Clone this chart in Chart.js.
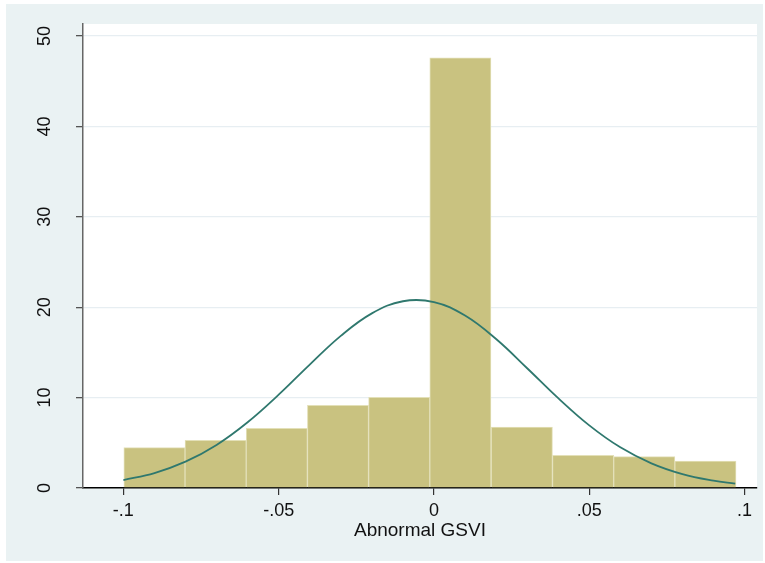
<!DOCTYPE html>
<html>
<head>
<meta charset="utf-8">
<title>Abnormal GSVI histogram</title>
<script src="https://cdn.jsdelivr.net/npm/chart.js@4.4.1/dist/chart.umd.min.js"></script>
<style>
    html, body { margin: 0; padding: 0; background: #ffffff; }
    #wrap { width: 765px; height: 563px; position: relative; }
</style>
</head>
<body>
<div id="wrap"><canvas id="hist" width="765" height="563"></canvas></div>
<script>
// histogram bins (centres) and their density heights
const binCenters = [-0.0900, -0.0703, -0.0506, -0.0309, -0.0112, 0.0085, 0.0283, 0.0480, 0.0677, 0.0874];
const densities = [4.46, 5.27, 6.60, 9.15, 10.03, 47.60, 6.75, 3.62, 3.47, 2.99];

// normal density overlay, read along the x axis
const curveX = [-0.100, -0.090, -0.080, -0.070, -0.060, -0.050, -0.040, -0.030, -0.020, -0.010, 0.000,
                0.010, 0.020, 0.030, 0.040, 0.050, 0.060, 0.070, 0.080, 0.090, 0.097];
const curveY = [0.88, 1.65, 2.91, 4.76, 7.27, 10.32, 13.65, 16.83, 19.32, 20.66, 20.57,
                19.08, 16.48, 13.25, 9.94, 6.93, 4.50, 2.73, 1.54, 0.81, 0.49];

// axis ticks
const xTicks = [-0.1, -0.05, 0, 0.05, 0.1];
const xTickLabels = ['-.1', '-.05', '0', '.05', '.1'];
const yTicks = [0, 10, 20, 30, 40, 50];
const xTitle = 'Abnormal GSVI';

const FONT = '"Liberation Sans", Arial, sans-serif';

// outer light panel + white plot region
const backdrop = {
    id: 'backdrop',
    beforeDraw(chart) {
        const { ctx, chartArea: a } = chart;
        ctx.save();
        ctx.fillStyle = '#ffffff';
        ctx.fillRect(0, 0, chart.width, chart.height);
        ctx.fillStyle = '#eaf2f3';
        ctx.fillRect(6, 4, 757, 557);
        ctx.fillStyle = '#ffffff';
        ctx.fillRect(a.left, a.top, a.right - a.left, a.bottom - a.top);
        ctx.restore();
    }
};

// y tick labels are drawn turned on their side
const sideLabels = {
    id: 'sideLabels',
    afterDraw(chart) {
        const { ctx } = chart;
        const y = chart.scales.y;
        ctx.save();
        ctx.fillStyle = '#111111';
        ctx.font = '18px ' + FONT;
        ctx.textAlign = 'center';
        ctx.textBaseline = 'middle';
        yTicks.forEach(v => {
            ctx.save();
            ctx.translate(45, y.getPixelForValue(v));
            ctx.rotate(-Math.PI / 2);
            ctx.fillText(String(v), 0, 0);
            ctx.restore();
        });
        ctx.restore();
    }
};

const chart = new Chart(document.getElementById('hist'), {
    type: 'bar',
    data: {
        datasets: [
            {
                type: 'line',
                data: curveX.map((x, i) => ({ x, y: curveY[i] })),
                borderColor: '#2f786e',
                borderWidth: 1.8,
                pointRadius: 0,
                tension: 0.4,
                fill: false,
                order: 1
            },
            {
                type: 'bar',
                data: binCenters.map((x, i) => ({ x, y: densities[i] })),
                backgroundColor: '#c9c280',
                borderColor: '#e3e0b8',
                borderWidth: 1,
                barPercentage: 1,
                categoryPercentage: 1,
                order: 2
            }
        ]
    },
    options: {
        responsive: false,
        animation: false,
        layout: { padding: { left: 0, top: 24, right: 8, bottom: 0 } },
        plugins: { legend: { display: false }, tooltip: { enabled: false } },
        scales: {
            x: {
                type: 'linear',
                min: -0.113,
                max: 0.104,
                offset: false,
                afterBuildTicks: s => { s.ticks = xTicks.map(v => ({ value: v })); },
                afterFit: s => { s.height = 75; },
                grid: { offset: false, drawOnChartArea: false, drawTicks: true, tickLength: 7, tickColor: '#333333', lineWidth: 1.2 },
                border: { color: '#000000', width: 1.5 },
                ticks: {
                    padding: 5,
                    color: '#111111',
                    font: { family: FONT, size: 18 },
                    maxRotation: 0,
                    callback: v => xTickLabels[xTicks.indexOf(v)]
                },
                title: {
                    display: true,
                    text: xTitle,
                    color: '#111111',
                    font: { family: FONT, size: 19 },
                    padding: { top: 0, bottom: 21 }
                }
            },
            y: {
                type: 'linear',
                min: 0,
                max: 51.33,
                afterBuildTicks: s => { s.ticks = yTicks.map(v => ({ value: v })); },
                afterFit: s => { s.width = 83; },
                grid: {
                    color: c => c.tick && c.tick.value === 0 ? 'rgba(0,0,0,0)' : '#e7eef2',
                    lineWidth: 1.3,
                    drawTicks: true,
                    tickLength: 7,
                    tickColor: '#555555'
                },
                border: { color: '#666666', width: 1.5 },
                ticks: { display: false }
            }
        }
    },
    plugins: [backdrop, sideLabels]
});
</script>
</body>
</html>
